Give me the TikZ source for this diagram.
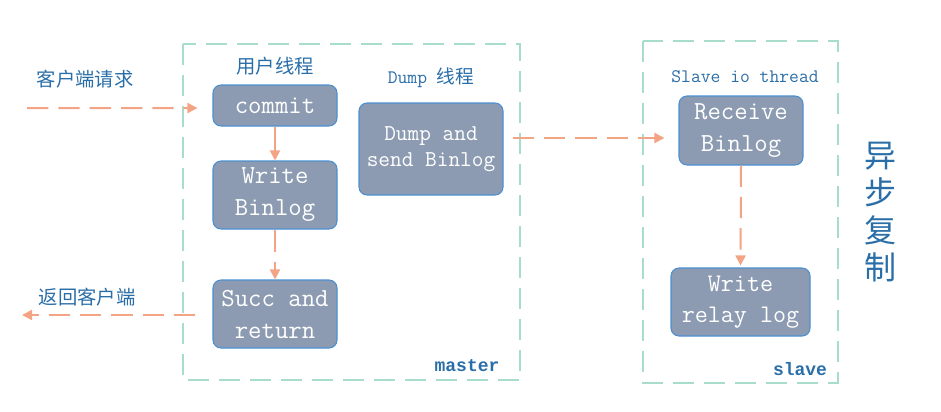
\documentclass[tikz,border=0pt]{standalone}
\usepackage{fontspec}
\newfontfamily\boldmono{Liberation Mono}
\newfontfamily\cjk{Noto Sans CJK SC}
\usetikzlibrary{arrows.meta}
\definecolor{boxfill}{HTML}{8C9BB1}
\definecolor{boxline}{HTML}{4A8FD0}
\definecolor{arr}{HTML}{F2A484}
\definecolor{frame}{HTML}{A8DCCC}
\definecolor{lbl}{HTML}{2A6EA8}
\begin{document}
\begin{tikzpicture}[x=0.75pt,y=-0.75pt,
  procbox/.style={draw=boxline,fill=boxfill,rounded corners=6pt,line width=0.8pt,
    text=white,align=center,inner sep=0pt,font=\ttfamily\fontsize{19.5}{24}\selectfont},
  framebox/.style={draw=frame,line width=0.8pt,dash pattern=on 15.75pt off 7.5pt},
  lab/.style={text=lbl,inner sep=0pt},
  arrsolid/.style={draw=arr,line width=1.5pt,-{Triangle[length=7.5pt,width=7.5pt]}},
  arrdash/.style={arrsolid,dash pattern=on 16pt off 7.5pt}
]
\useasboundingbox (0,0) rectangle (941,411);
% frames
\draw[framebox] (183,44) rectangle (520,380);
\draw[framebox] (643,41) rectangle (838,383);
% boxes
\node[procbox,minimum width=93pt,minimum height=30.75pt] (commit) at (275,105.5) {\raisebox{-1.5pt}{commit}};
\node[procbox,minimum width=93pt,minimum height=51pt] (wbin) at (275,195) {\raisebox{-2pt}{Write}\\\raisebox{-2pt}{Binlog}};
\node[procbox,minimum width=93pt,minimum height=51pt] (succ) at (275,314) {\raisebox{-1pt}{Succ and}\\\raisebox{-1pt}{return}};
\node[procbox,minimum width=108pt,minimum height=69pt,font=\ttfamily\fontsize{17}{20}\selectfont] (dump) at (431,149) {Dump and\\send Binlog};
\node[procbox,minimum width=93pt,minimum height=51.75pt] (recv) at (741,130.5) {Receive\\Binlog};
\node[procbox,minimum width=104.25pt,minimum height=51pt,font=\ttfamily\fontsize{19}{23}\selectfont] (wrelay) at (740.5,302) {\raisebox{-1.5pt}{Write}\\\raisebox{-1.5pt}{relay log}};
% labels
\node[lab,font=\cjk\fontsize{14.5}{16}\selectfont] (lreq) at (85,79) {客户端请求};
\node[lab,font=\cjk\fontsize{14.5}{16}\selectfont] (lret) at (87,297) {返回客户端};
\node[lab,font=\cjk\fontsize{14.5}{16}\selectfont] (luser) at (275,66) {用户线程};
\node[lab] (ldump) at (431,78) {\ttfamily\fontsize{14.3}{16}\selectfont Dump \cjk\fontsize{14}{16}\selectfont 线程};
\node[lab,font=\ttfamily\fontsize{14.3}{16}\selectfont] (lslave) at (745,77) {Slave io thread};
\node[lab,font=\boldmono\bfseries\fontsize{13.5}{15}\selectfont] (lmaster) at (467,366) {master};
\node[lab,font=\boldmono\bfseries\fontsize{13.5}{15}\selectfont] (lslv) at (800,369) {slave};
\node[lab,font=\cjk\fontsize{24}{28}\selectfont,align=center] (lasync) at (880,212) {异\\步\\复\\制};
% connectors
\coordinate (cin) at (27,108);
\coordinate (cout) at (22,315);
\draw[arrdash] (cin) -- ([xshift=-11.25pt,yshift=-1.9pt]commit.west);
\draw[arrsolid] (commit.south) -- (wbin.north);
\draw[arrsolid,dash pattern=on 17pt off 7pt] (wbin.south) -- (succ.north);
\draw[arrdash] ([xshift=-12.75pt,yshift=-0.75pt]succ.west) -- (cout);
\draw[arrdash] ([shift={(9,-11)}]dump.east) -- ([shift={(-14,7.5)}]recv.west);
\draw[arrdash] (recv.south) -- ([yshift=1.5pt]wrelay.north);
\end{tikzpicture}
\end{document}
